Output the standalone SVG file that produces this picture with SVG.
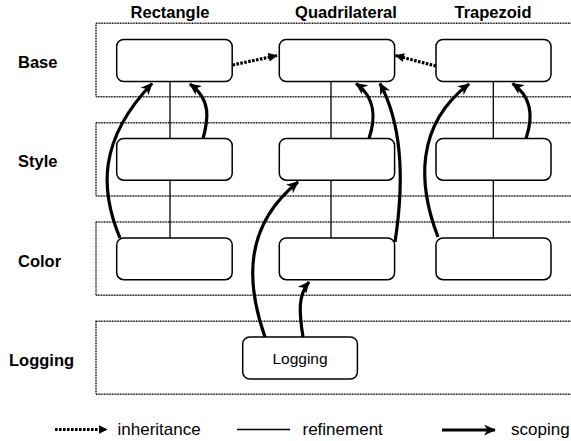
<svg xmlns="http://www.w3.org/2000/svg" width="571" height="441" viewBox="0 0 571 441">
<style>
.layer{fill:none;stroke:#111;stroke-width:1.4;stroke-dasharray:1 0.6}
.node{fill:#fff;stroke:#000;stroke-width:1.5}
.lbl{font-family:"Liberation Sans",Arial,sans-serif;font-weight:bold;font-size:16.5px;fill:#000}
.txt{font-family:"Liberation Sans",Arial,sans-serif;font-size:17px;fill:#000}
.ntxt{font-family:"Liberation Sans",Arial,sans-serif;font-size:15.5px;fill:#000}
.ref{fill:none;stroke:#000;stroke-width:1.3}
.scope{fill:none;stroke:#000;stroke-width:3.2;marker-end:url(#sa)}
.inh{fill:none;stroke:#000;stroke-width:3.2;stroke-dasharray:2.6 1.4;marker-end:url(#ia)}
</style>
<defs>
<marker id="sa" markerUnits="userSpaceOnUse" viewBox="0 0 12 11" markerWidth="12" markerHeight="11" refX="11" refY="5.5" orient="auto"><path d="M0,0 L12,5.5 L0,11 L3.5,5.5 Z" fill="#000"/></marker>
<marker id="ia" markerUnits="userSpaceOnUse" viewBox="0 0 9 9" markerWidth="9" markerHeight="9" refX="8.5" refY="4.5" orient="auto"><path d="M0,0 L9,4.5 L0,9 Z" fill="#000"/></marker>
</defs>
<g id="layers">
<rect class="layer" x="96" y="23.3" width="500" height="73.4"/>
<rect class="layer" x="96" y="122.7" width="500" height="73.3"/>
<rect class="layer" x="96" y="222" width="500" height="73.3"/>
<rect class="layer" x="96" y="321.3" width="500" height="73"/>
</g>
<g id="labels">
<text class="lbl" x="170" y="18" text-anchor="middle">Rectangle</text>
<text class="lbl" x="346" y="18" text-anchor="middle">Quadrilateral</text>
<text class="lbl" x="493" y="18" text-anchor="middle">Trapezoid</text>
<text class="lbl" x="18" y="67.5">Base</text>
<text class="lbl" x="18" y="167">Style</text>
<text class="lbl" x="18" y="266.5">Color</text>
<text class="lbl" x="9" y="366">Logging</text>
</g>
<g id="connectors">
<path class="ref" d="M170,81.5 V138.5 M170,180 V238 M331,81.5 V138.5 M331,180 V238 M493.3,81.5 V138.5 M493.3,180 V238"/>
<path class="inh" d="M232.5,65 L277,55.5"/>
<path class="inh" d="M436,66 L395.5,55.5"/>
<path class="scope" d="M120,238 C100,190 98,140 152,83.5"/>
<path class="scope" d="M203,139 C208,120 212,100 190,84"/>
<path class="scope" d="M265,337 C245,280 245,225 298,182"/>
<path class="scope" d="M303,337 C299,312 298,295 309,282"/>
<path class="scope" d="M369,138.5 C376,118 375,97 356,83.5"/>
<path class="scope" d="M395,242 C403,190 405,130 380,83.5"/>
<path class="scope" d="M438,237 C418,185 415,125 469,84"/>
<path class="scope" d="M526,138.5 C533,118 532,97 512.5,83.5"/>
</g>
<g id="rect-base"><rect class="node" x="116.7" y="39.5" width="115.5" height="42" rx="7"/></g>
<g id="rect-style"><rect class="node" x="116.7" y="138.5" width="115.5" height="41.7" rx="7"/></g>
<g id="rect-color"><rect class="node" x="116.7" y="238" width="115.5" height="41.7" rx="7"/></g>
<g id="quad-base"><rect class="node" x="279.3" y="39.5" width="115.3" height="42" rx="7"/></g>
<g id="quad-style"><rect class="node" x="279.3" y="138.5" width="115.3" height="41.7" rx="7"/></g>
<g id="quad-color"><rect class="node" x="279.3" y="238" width="115.3" height="41.7" rx="7"/></g>
<g id="trap-base"><rect class="node" x="436" y="39.5" width="115" height="42" rx="7"/></g>
<g id="trap-style"><rect class="node" x="436" y="138.5" width="115" height="41.7" rx="7"/></g>
<g id="trap-color"><rect class="node" x="436" y="238" width="115" height="41.7" rx="7"/></g>
<g id="logging"><rect class="node" x="242.7" y="337" width="114.7" height="42" rx="7"/><text class="ntxt" x="300" y="364" text-anchor="middle">Logging</text></g>
<g id="legend">
<path class="inh" d="M55,429.5 L107,429.5"/>
<path class="ref" d="M237,429.5 L290,429.5" style="stroke-width:1.5"/>
<path class="scope" d="M442,430 L495,430"/>
<text class="txt" x="117.5" y="435">inheritance</text>
<text class="txt" x="302.5" y="435">refinement</text>
<text class="txt" x="511" y="435">scoping</text>
</g>
</svg>
